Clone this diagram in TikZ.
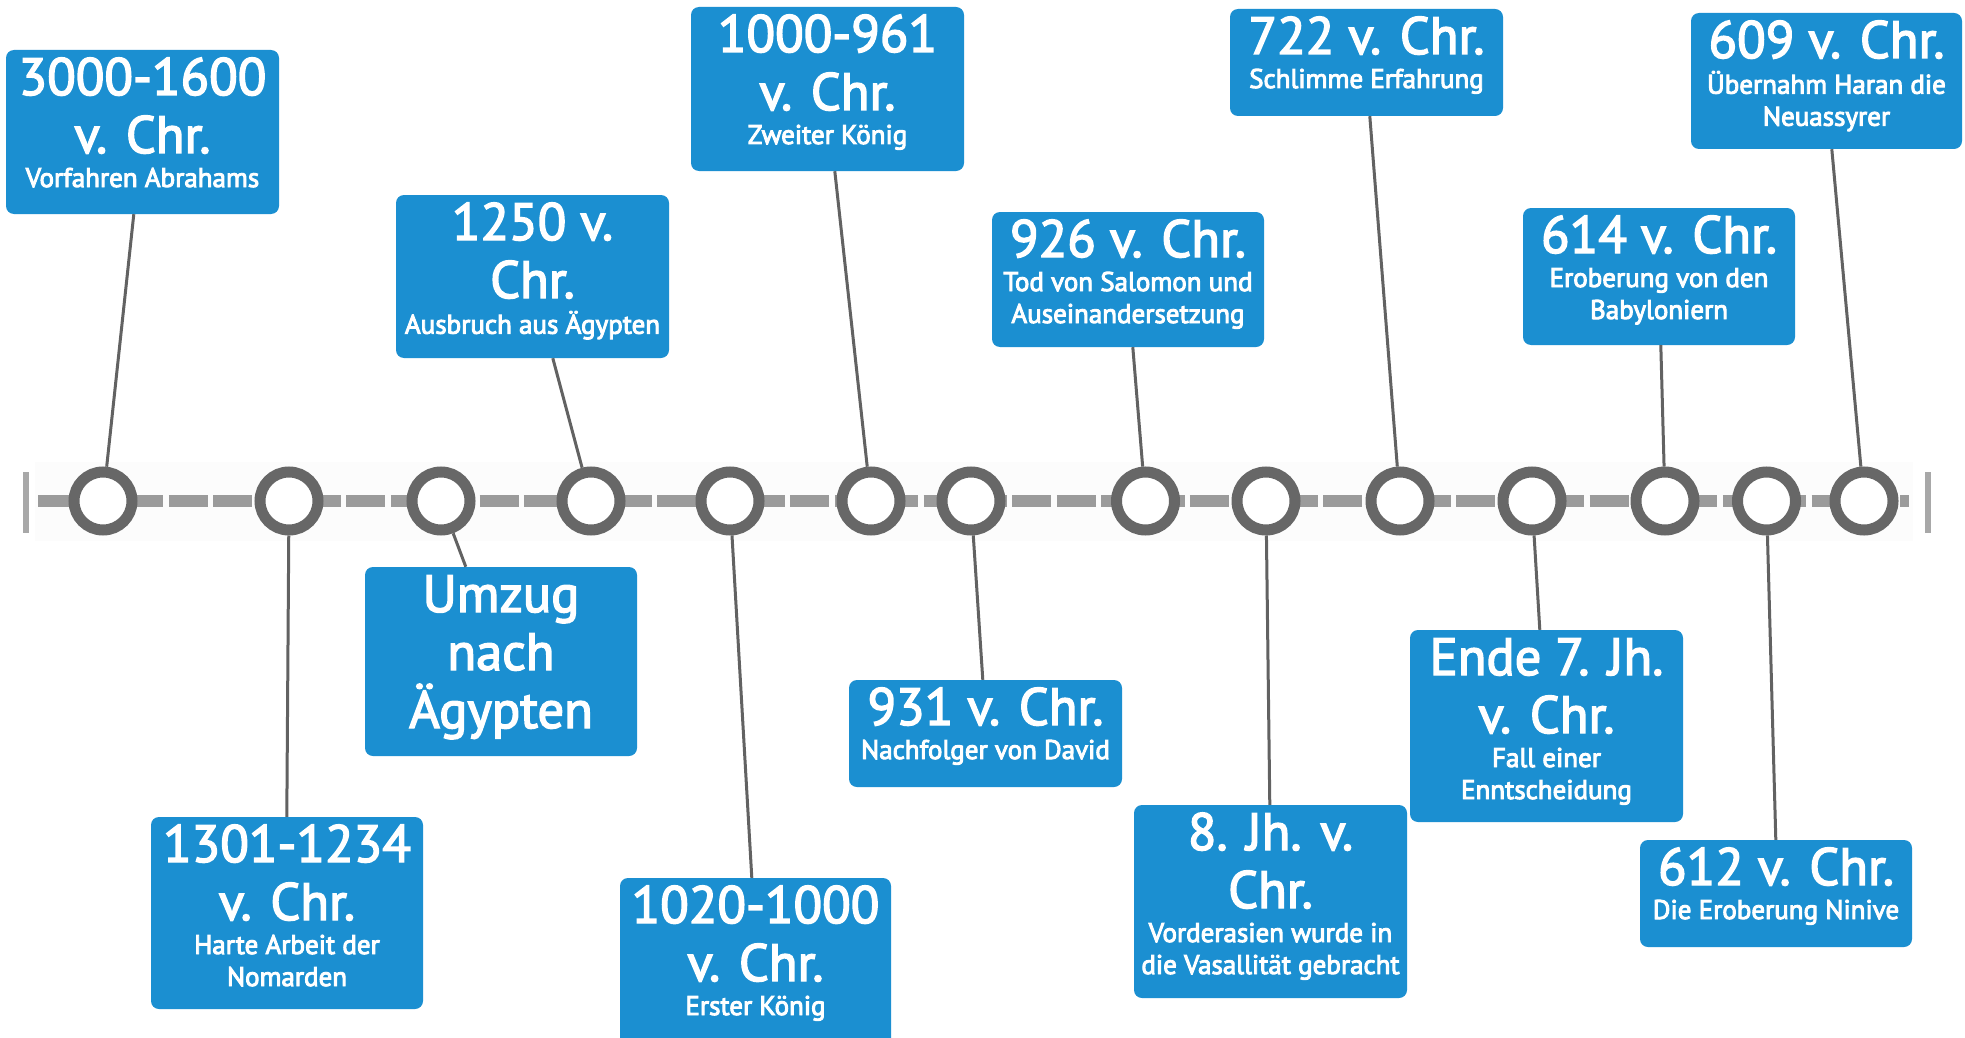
\documentclass[tikz,border=0pt]{standalone}
\usepackage{fontspec}
\setmainfont{PT Sans}
\newfontfamily\evheadfont{PT Sans}[FakeBold=2.8]
\newfontfamily\evsubfont{PT Sans}[FakeBold=3.5]
\usetikzlibrary{calc,fit}
\definecolor{evblue}{HTML}{1B8FD1}
\definecolor{ringgray}{HTML}{676767}
\definecolor{conngray}{HTML}{626262}
\definecolor{dashgray}{HTML}{9B9B9B}
\definecolor{bargray}{HTML}{A8A8A8}
\definecolor{bandgray}{HTML}{FCFCFC}
\tikzset{
  evbox/.style={fill=evblue, draw=none, rounded corners=8pt, inner sep=0pt},
  evhead/.style={text=white, align=center, inner sep=0pt, font=\evheadfont\fontsize{52.5}{58}\selectfont},
  evsub/.style={text=white, align=center, inner sep=0pt, font=\evsubfont\fontsize{27}{32}\selectfont},
  ring/.style={circle, draw=ringgray, line width=11pt, fill=white, minimum size=58pt, inner sep=0pt},
  conn/.style={draw=conngray, line width=3pt},
  tline/.style={draw=dashgray, line width=12pt, dash pattern=on 39pt off 5.4pt, dash phase=2.45pt},
  endbar/.style={draw=bargray, line width=6pt}
}
% #1 name, #2-#5 box corners, #6 heading, #7 offset of subtitle, #8 subtitle
\newcommand\tlevent[8]{%
  \node[evbox, fit={(#2,#3) (#4,#5)}] (#1) {};
  \node[evhead, anchor=north, yshift=-5pt] (#1h) at (#1.north) {\rule{0pt}{40pt}#6};
  \node[evsub, anchor=north, yshift=-#7pt] (#1s) at (#1.north) {\rule{0pt}{21pt}#8};
}
\begin{document}
\begin{tikzpicture}[x=1pt,y=-1pt]
\useasboundingbox (0,0) rectangle (1965,1038);
\fill[white] (0,0) rectangle (1965,1038);
% faint band
\fill[bandgray] (35,462) rectangle (1913,541);
% timeline
\coordinate (tlL) at (38,501);
\coordinate (tlR) at (1909,501);
\draw[tline] (tlL) -- (tlR);
\coordinate (barLa) at (26,472);
\coordinate (barLb) at (26,533);
\coordinate (barRa) at (1928,472);
\coordinate (barRb) at (1928,533);
\draw[endbar] (barLa) -- (barLb);
\draw[endbar] (barRa) -- (barRb);

% event boxes
\tlevent{b1}{6}{50}{279}{214}{3000-1600\\v. Chr.}{116}{Vorfahren Abrahams}
\tlevent{b2}{151}{817}{423}{1009}{1301-1234\\v. Chr.}{116}{Harte Arbeit der\\Nomarden}
\node[evbox, fit={(365,567) (637,756)}] (b3) {};
\node[evhead, anchor=north, yshift=-5pt] (b3h) at (b3.north) {\rule{0pt}{40pt}Umzug\\nach\\Ägypten};
\tlevent{b4}{396}{195}{669}{358}{1250 v.\\Chr.}{116}{Ausbruch aus Ägypten}
\tlevent{b5}{620}{878}{891}{1048}{1020-1000\\v. Chr.}{116}{Erster König}
\tlevent{b6}{691}{7}{964}{171}{1000-961\\v. Chr.}{116}{Zweiter König}
\tlevent{b7}{849}{680}{1122}{787}{931 v. Chr.}{58}{Nachfolger von David}
\tlevent{b8}{992}{212}{1264}{347}{926 v. Chr.}{58}{Tod von Salomon und\\Auseinandersetzung}
\tlevent{b9}{1134}{805}{1407}{998}{8. Jh. v.\\Chr.}{116}{Vorderasien wurde in\\die Vasallität gebracht}
\tlevent{b10}{1230}{9}{1503}{116}{722 v. Chr.}{58}{Schlimme Erfahrung}
\tlevent{b11}{1410}{630}{1683}{822}{Ende 7. Jh.\\v. Chr.}{116}{Fall einer\\Enntscheidung}
\tlevent{b12}{1523}{208}{1795}{345}{614 v. Chr.}{58}{Eroberung von den\\Babyloniern}
\tlevent{b13}{1640}{840}{1912}{947}{612 v. Chr.}{58}{Die Eroberung Ninive}
\tlevent{b14}{1691}{13}{1962}{149}{609 v. Chr.}{58}{Übernahm Haran die\\Neuassyrer}

% circles on the timeline
\node[ring] (c1) at (103,501) {};
\node[ring] (c2) at (289,501) {};
\node[ring] (c3) at (441,501) {};
\node[ring] (c4) at (591,501) {};
\node[ring] (c5) at (730,501) {};
\node[ring] (c6) at (871,501) {};
\node[ring] (c7) at (971,501) {};
\node[ring] (c8) at (1145.5,501) {};
\node[ring] (c9) at (1266,501) {};
\node[ring] (c10) at (1400,501) {};
\node[ring] (c11) at (1532,501) {};
\node[ring] (c12) at (1665,501) {};
\node[ring] (c13) at (1766.5,501) {};
\node[ring] (c14) at (1864,501) {};

% connectors
\draw[conn] (c1) -- ($(b1.south west)+(128,0)$);
\draw[conn] (c2) -- ($(b2.north west)+(136,0)$);
\draw[conn] (c3) -- ($(b3.north west)+(101,0)$);
\draw[conn] (c4) -- ($(b4.south west)+(157,0)$);
\draw[conn] (c5) -- ($(b5.north west)+(132,0)$);
\draw[conn] (c6) -- ($(b6.south west)+(144,0)$);
\draw[conn] (c7) -- ($(b7.north west)+(134,0)$);
\draw[conn] (c8) -- ($(b8.south west)+(141,0)$);
\draw[conn] (c9) -- ($(b9.north west)+(136,0)$);
\draw[conn] (c10) -- ($(b10.south west)+(140,0)$);
\draw[conn] (c11) -- ($(b11.north west)+(130,0)$);
\draw[conn] (c12) -- ($(b12.south west)+(138,0)$);
\draw[conn] (c13) -- ($(b13.north west)+(136,0)$);
\draw[conn] (c14) -- ($(b14.south west)+(141,0)$);
\end{tikzpicture}
\end{document}
